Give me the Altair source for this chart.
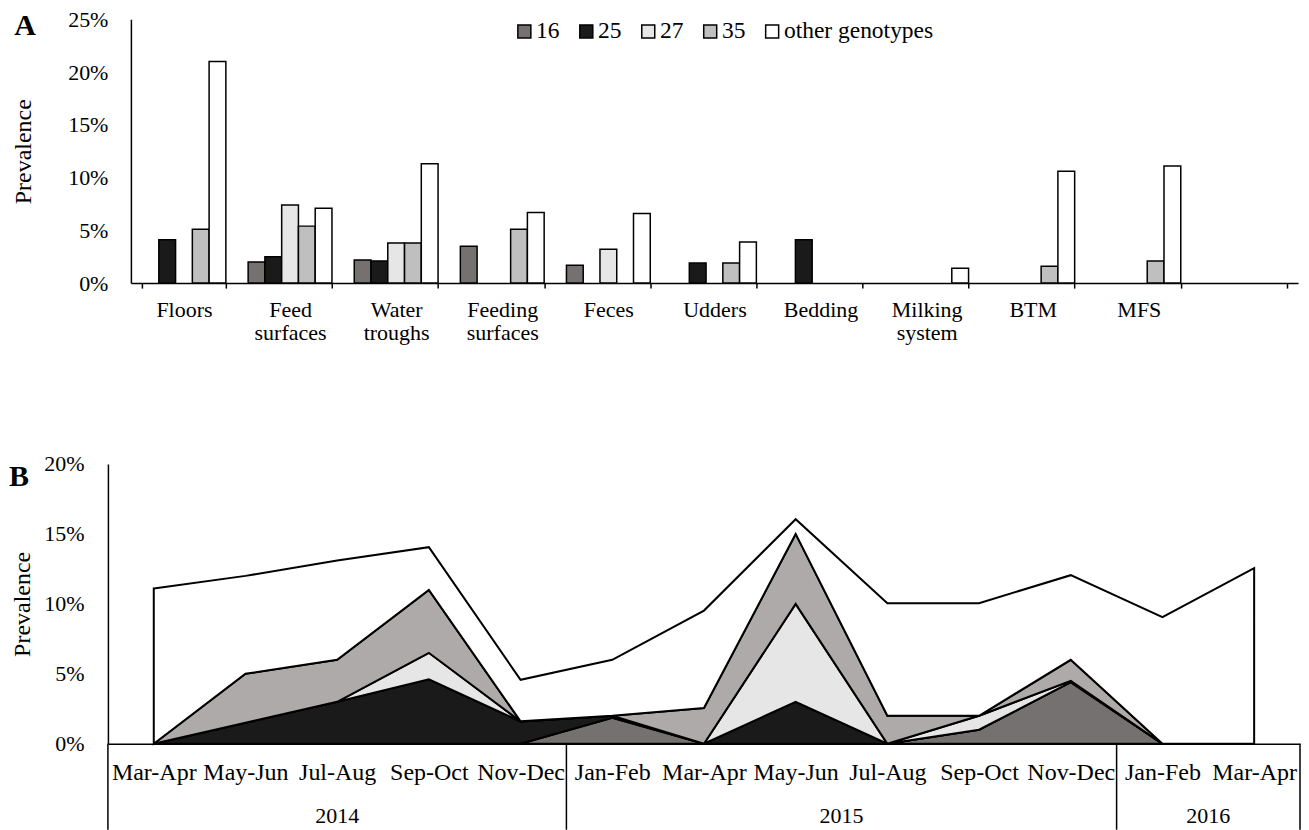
import json
import altair as alt
import pandas as pd

FONT = "Liberation Serif"

# ---------------- Panel A data ----------------
sites = ["Floors", "Feed surfaces", "Water troughs", "Feeding surfaces", "Feces",
         "Udders", "Bedding", "Milking system", "BTM", "MFS", " "]
genotypes = ["16", "25", "27", "35", "other genotypes"]
a_g16 = [0, 2.0, 2.2, 3.5, 1.7, 0, 0, 0, 0, 0]
a_g25 = [4.1, 2.5, 2.1, 0, 0, 1.9, 4.1, 0, 0, 0]
a_g27 = [0, 7.4, 3.8, 0, 3.2, 0, 0, 0, 0, 0]
a_g35 = [5.1, 5.4, 3.8, 5.1, 0, 1.9, 0, 0, 1.6, 2.1]
a_other = [21.0, 7.1, 11.3, 6.7, 6.6, 3.9, 0, 1.4, 10.6, 11.1]
colors_a = ["#767171", "#1a1a1a", "#e7e6e6", "#bfbfbf", "#ffffff"]

# ---------------- Panel B data ----------------
periods = ["Mar-Apr", "May-Jun", "Jul-Aug", "Sep-Oct", "Nov-Dec",
           "Jan-Feb", "Mar-Apr", "May-Jun", "Jul-Aug", "Sep-Oct", "Nov-Dec",
           "Jan-Feb", "Mar-Apr"]
years = ["2014", "2015", "2016"]
year_counts = [5, 6, 2]
b_g16 = [0, 0, 0, 0, 0, 1.85, 0, 0, 0, 1.0, 4.4, 0, 0]
b_g25 = [0, 1.5, 3.0, 4.6, 1.6, 0.15, 0, 3.0, 0, 0, 0, 0, 0]
b_g27 = [0, 0, 0, 1.9, 0, 0, 0, 7.0, 0, 1.0, 0.1, 0, 0]
b_g35 = [0, 3.5, 3.0, 4.5, 0, 0, 2.55, 5.0, 2.0, 0, 1.5, 0, 0]
b_other = [11.1, 7.0, 7.1, 3.05, 2.97, 4.0, 6.97, 1.05, 8.05, 8.05, 6.05, 9.05, 12.55]
colors_b = ["#767171", "#1a1a1a", "#e6e6e6", "#aeaaaa", "#ffffff"]

# ---------------- Panel A chart ----------------
rows = []
for g, vals in zip(genotypes, [a_g16, a_g25, a_g27, a_g35, a_other]):
    for s, v in zip(sites, vals):
        if v > 0:
            rows.append({"site": s, "genotype": g, "value": v})
dfa = pd.DataFrame(rows)

WA, HA = 1191, 264
AX_SHIFT = 23

bars = alt.Chart(dfa).mark_bar(stroke="black", strokeWidth=1.5).encode(
    x=alt.X("site:N", sort=sites,
            scale=alt.Scale(domain=sites, range=[AX_SHIFT, WA],
                            paddingInner=0.21, paddingOuter=0.105),
            axis=alt.Axis(title=None, labelExpr="split(datum.label, ' ')",
                          tickBand="extent", ticks=True, tickSize=5,
                          tickColor="black", tickWidth=1.5,
                          domainColor="black", domainWidth=1.5, labelAngle=0,
                          labelFont=FONT, labelFontSize=22, labelColor="black",
                          labelPadding=11, labelLineHeight=23, labelBaseline="top")),
    xOffset=alt.XOffset("genotype:N", sort=genotypes,
                        scale=alt.Scale(domain=genotypes, paddingInner=0, paddingOuter=0)),
    y=alt.Y("value:Q", scale=alt.Scale(domain=[0, 25], nice=False),
            axis=alt.Axis(title="Prevalence", values=[0, 5, 10, 15, 20, 25],
                          labelExpr="datum.value + '%'", ticks=False, grid=False,
                          offset=-AX_SHIFT, domainColor="black", domainWidth=1.5,
                          labelFont=FONT, labelFontSize=22, labelColor="black",
                          labelPadding=23, titleFont=FONT, titleFontSize=24,
                          titleFontWeight="normal", titleColor="black",
                          titlePadding=32)),
    color=alt.Color("genotype:N", sort=genotypes,
                    scale=alt.Scale(domain=genotypes, range=colors_a),
                    legend=alt.Legend(title=None, orient="none", legendX=405, legendY=0,
                                      direction="horizontal", symbolType="square",
                                      symbolSize=169, symbolStrokeColor="black",
                                      symbolStrokeWidth=1.5, labelFont=FONT,
                                      labelFontSize=23.5, labelColor="black",
                                      labelOffset=0, columnPadding=15, padding=0)),
)

lab_a = alt.Chart(pd.DataFrame({"t": ["A"]})).mark_text(
    font=FONT, fontSize=30, fontWeight="bold", align="center", baseline="middle",
    color="black").encode(text="t:N", x=alt.value(-83), y=alt.value(7))

panel_a = alt.layer(bars, lab_a).properties(width=WA, height=HA)

# ---------------- Panel B chart ----------------
brows = []
cum = [0.0] * len(periods)
for g, vals in zip(genotypes, [b_g16, b_g25, b_g27, b_g35, b_other]):
    for i, v in enumerate(vals):
        brows.append({"idx": i, "genotype": g, "y0": cum[i], "y1": cum[i] + v})
        cum[i] += v
dfb = pd.DataFrame(brows)

WB, HB = 1193, 280
n = len(periods)
xscale_b = alt.Scale(domain=[-0.5, n - 0.5], nice=False, zero=False)

bounds = [-0.5]
mids = []
for c in year_counts:
    mids.append(bounds[-1] + c / 2)
    bounds.append(bounds[-1] + c)

areas = alt.Chart(dfb).mark_area(stroke="black", strokeWidth=2, interpolate="linear",
                                 strokeJoin="miter").encode(
    x=alt.X("idx:Q", scale=xscale_b,
            axis=alt.Axis(title=None, values=list(range(n)),
                          labelExpr=json.dumps(periods) + "[datum.value]",
                          ticks=False, grid=False, domainColor="black", domainWidth=1.5,
                          labelFont=FONT, labelFontSize=24, labelColor="black",
                          labelPadding=17, labelFlush=False, labelOverlap=False)),
    y=alt.Y("y1:Q", scale=alt.Scale(domain=[0, 20], nice=False),
            axis=alt.Axis(title="Prevalence", values=[0, 5, 10, 15, 20],
                          labelExpr="datum.value + '%'", ticks=False, grid=False,
                          domainColor="black", domainWidth=1.5,
                          labelFont=FONT, labelFontSize=22, labelColor="black",
                          labelPadding=24, titleFont=FONT, titleFontSize=24,
                          titleFontWeight="normal", titleColor="black",
                          titlePadding=9)),
    y2="y0:Q",
    color=alt.Color("genotype:N", sort=genotypes,
                    scale=alt.Scale(domain=genotypes, range=colors_b), legend=None),
)

seps = alt.Chart(pd.DataFrame({"b": bounds})).mark_rule(color="black", strokeWidth=1.5).encode(
    x=alt.X("b:Q", scale=xscale_b), y=alt.value(HB), y2=alt.value(HB + 86))

year_text = alt.Chart(pd.DataFrame({"mid": mids, "year": years})).mark_text(
    font=FONT, fontSize=22, color="black", baseline="middle").encode(
    x=alt.X("mid:Q", scale=xscale_b), y=alt.value(HB + 72), text="year:N")

lab_b = alt.Chart(pd.DataFrame({"t": ["B"]})).mark_text(
    font=FONT, fontSize=30, fontWeight="bold", align="center", baseline="middle",
    color="black").encode(text="t:N", x=alt.value(-89), y=alt.value(13))

panel_b = alt.layer(areas, seps, year_text, lab_b).properties(width=WB, height=HB)

chart = alt.vconcat(panel_a, panel_b, spacing=110).resolve_scale(
    x="independent", y="independent", color="independent"
).properties(padding=0).configure_view(stroke=None)

chart.save("out.html", embed_options={"renderer": "svg", "actions": False})
